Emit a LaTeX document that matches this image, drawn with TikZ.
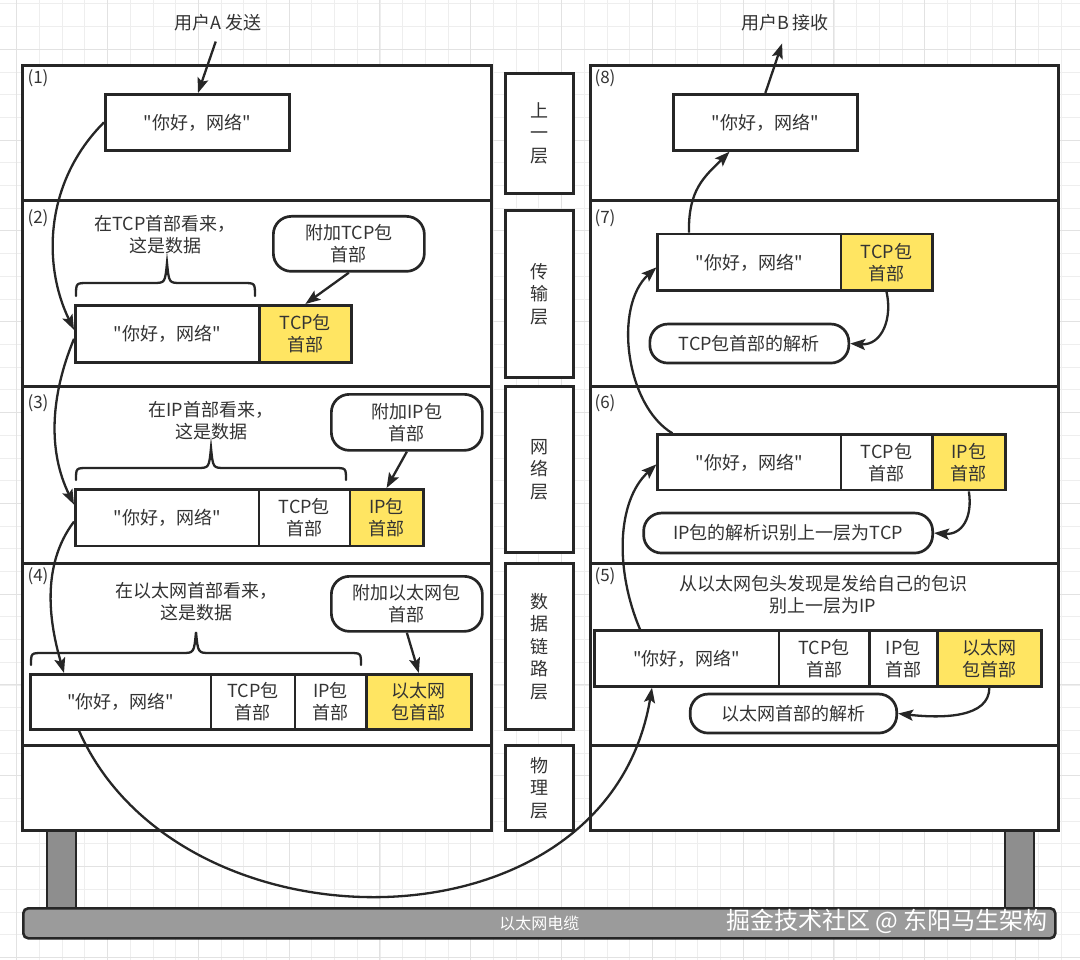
\documentclass[tikz,border=0pt]{standalone}
\usepackage{fontspec}
\setmainfont{Noto Sans CJK SC}[Ligatures=TeXOff]
\usetikzlibrary{arrows.meta,calc}
\definecolor{ink}{HTML}{262626}
\definecolor{txt}{HTML}{333333}
\definecolor{yel}{HTML}{FFE562}
\definecolor{gridminor}{HTML}{EEEEEE}
\definecolor{gridmajor}{HTML}{E2E2E2}
\definecolor{cablegray}{HTML}{9B9B9B}
\definecolor{leggray}{HTML}{8E8E8E}
\begin{document}
\begin{tikzpicture}[x=1pt,y=-1pt,
  every node/.style={text=txt, font=\fontsize{18}{22}\selectfont},
  framebox/.style={draw=ink, line width=2.7pt, fill=white, anchor=north west, inner sep=0pt},
  cellbox/.style={draw=ink, line width=2.7pt, fill=white, anchor=north west, inner sep=0pt, align=center},
  hdrbox/.style={cellbox, fill=yel},
  bubble/.style={draw=ink, line width=2.7pt, fill=white, anchor=north west, inner sep=0pt, rounded corners=18pt, align=center},
  midbox/.style={draw=ink, line width=2.7pt, fill=white, anchor=north west, inner sep=0pt, align=center, font=\fontsize{18}{22.5}\selectfont},
  legbox/.style={draw=ink, line width=2.4pt, fill=leggray, anchor=north west, inner sep=0pt},
  numlabel/.style={font=\fontsize{17}{20}\selectfont, inner sep=0pt},
  arr/.style={draw=ink, line width=2.3pt, -{Stealth[length=15pt,width=11pt,inset=3pt]}},
  bracepath/.style={draw=ink, line width=2.3pt, line cap=round}
]
\useasboundingbox (0,0) rectangle (1080,960);
\fill[white] (0,0) rectangle (1080,960);
% background grid
\foreach \i in {0,...,47} \draw[gridminor, line width=0.8pt] (16.7+22.7*\i,0) -- ++(0,960);
\foreach \j in {0,...,42} \draw[gridminor, line width=0.8pt] (0,3.9+22.7*\j) -- ++(1080,0);
\foreach \i in {0,...,11} \draw[gridmajor, line width=0.9pt] (16.7+90.8*\i,0) -- ++(0,960);
\foreach \j in {0,...,10} \draw[gridmajor, line width=0.9pt] (0,49.3+90.8*\j) -- ++(1080,0);

% legs and cable
\node[legbox, minimum width=29pt, minimum height=80pt] (legL) at (45.5,828) {};
\node[legbox, minimum width=29pt, minimum height=80pt] (legR) at (1004,828) {};
\node[draw=ink, line width=2.6pt, fill=cablegray, anchor=north west, inner sep=0pt, rounded corners=5pt,
      minimum width=1032pt, minimum height=30pt, text=white, font=\fontsize{16}{18}\selectfont] (cable) at (22,907) {以太网电缆};

% left stack
\node[framebox, minimum width=469pt, minimum height=135pt] (L1) at (21,64) {};
\node[framebox, minimum width=469pt, minimum height=186pt] (L2) at (21,199) {};
\node[framebox, minimum width=469pt, minimum height=177pt] (L3) at (21,385) {};
\node[framebox, minimum width=469pt, minimum height=182pt] (L4) at (21,562) {};
\node[framebox, minimum width=469pt, minimum height=85pt] (L5) at (21,744) {};
% right stack
\node[framebox, minimum width=468pt, minimum height=135pt] (R1) at (589,64) {};
\node[framebox, minimum width=468pt, minimum height=186pt] (R2) at (589,199) {};
\node[framebox, minimum width=468pt, minimum height=177pt] (R3) at (589,385) {};
\node[framebox, minimum width=468pt, minimum height=182pt] (R4) at (589,562) {};
\node[framebox, minimum width=468pt, minimum height=85pt] (R5) at (589,744) {};
% middle column
\node[midbox, minimum width=68pt, minimum height=120pt] (M1) at (504,72) {上\\一\\层};
\node[midbox, minimum width=68pt, minimum height=167pt] (M2) at (504,209) {传\\输\\层};
\node[midbox, minimum width=68pt, minimum height=166pt] (M3) at (504,385) {网\\络\\层};
\node[midbox, minimum width=68pt, minimum height=166pt] (M4) at (504,562) {数\\据\\链\\路\\层};
\node[midbox, minimum width=68pt, minimum height=85pt] (M5) at (504,744) {物\\理\\层};

% step labels
\node[numlabel] (n1) at (38,78) {(1)};
\node[numlabel] (n2) at (38,218) {(2)};
\node[numlabel] (n3) at (38,403) {(3)};
\node[numlabel] (n4) at (38,576) {(4)};
\node[numlabel] (n8) at (605,78) {(8)};
\node[numlabel] (n7) at (605,218) {(7)};
\node[numlabel] (n6) at (605,403) {(6)};
\node[numlabel] (n5) at (605,576) {(5)};

% users
\node (ua) at (218,23) {用户A 发送};
\node (ub) at (785,23) {用户B 接收};

% (1)
\node[cellbox, minimum width=184pt, minimum height=56pt] (b1) at (104,93) {"你好，网络"};
% (2)
\node[cellbox, minimum width=184pt, minimum height=57pt] (p2a) at (74,304) {"你好，网络"};
\node[hdrbox, minimum width=92pt, minimum height=57pt] (p2b) at (258,304) {TCP包\\首部};
\node[bubble, minimum width=151pt, minimum height=55pt] (bub2) at (272,215) {附加TCP包\\首部};
\node[align=center] (t2) at (165,235) {在TCP首部看来，\\这是数据};
% (3)
\node[cellbox, minimum width=183.5pt, minimum height=56.5pt] (p3a) at (74,488) {"你好，网络"};
\node[cellbox, minimum width=91pt, minimum height=56.5pt] (p3b) at (257.5,488) {TCP包\\首部};
\node[hdrbox, minimum width=73.5pt, minimum height=56.5pt] (p3c) at (348.5,488) {IP包\\首部};
\node[bubble, minimum width=151pt, minimum height=56pt] (bub3) at (330,393) {附加IP包\\首部};
\node[align=center] (t3) at (211,421) {在IP首部看来，\\这是数据};
% (4)
\node[cellbox, minimum width=180.5pt, minimum height=55pt] (p4a) at (29,673) {"你好，网络"};
\node[cellbox, minimum width=84pt, minimum height=55pt] (p4b) at (209.5,673) {TCP包\\首部};
\node[cellbox, minimum width=71.5pt, minimum height=55pt] (p4c) at (293.5,673) {IP包\\首部};
\node[hdrbox, minimum width=105pt, minimum height=55pt] (p4d) at (365,673) {以太网\\包首部};
\node[bubble, minimum width=151pt, minimum height=55pt] (bub4) at (330,575) {附加以太网包\\首部};
\node[align=center] (t4) at (196,602) {在以太网首部看来，\\这是数据};

% (8)
\node[cellbox, minimum width=184pt, minimum height=56pt] (b8) at (672,93) {"你好，网络"};
% (7)
\node[cellbox, minimum width=183.2pt, minimum height=56.6pt] (p7a) at (656.4,232.7) {"你好，网络"};
\node[hdrbox, minimum width=91.2pt, minimum height=56.6pt] (p7b) at (839.6,232.7) {TCP包\\首部};
\node[bubble, minimum width=199pt, minimum height=39pt] (bub7) at (648.5,322.7) {TCP包首部的解析};
% (6)
\node[cellbox, minimum width=183.2pt, minimum height=55.4pt] (p6a) at (656.4,433.3) {"你好，网络"};
\node[cellbox, minimum width=91.2pt, minimum height=55.4pt] (p6b) at (839.6,433.3) {TCP包\\首部};
\node[hdrbox, minimum width=73.4pt, minimum height=55.4pt] (p6c) at (930.8,433.3) {IP包\\首部};
\node[bubble, minimum width=289pt, minimum height=40pt] (bub6) at (642.3,511.7) {IP包的解析识别上一层为TCP};
% (5)
\node[align=center] (t5) at (823,595) {从以太网包头发现是发给自己的包识\\别上一层为IP};
\node[cellbox, minimum width=184.2pt, minimum height=55.7pt] (p5a) at (593.4,629.3) {"你好，网络"};
\node[cellbox, minimum width=90.2pt, minimum height=55.7pt] (p5b) at (777.6,629.3) {TCP包\\首部};
\node[cellbox, minimum width=68.2pt, minimum height=55.7pt] (p5c) at (867.8,629.3) {IP包\\首部};
\node[hdrbox, minimum width=104pt, minimum height=55.7pt] (p5d) at (936,629.3) {以太网\\包首部};
\node[bubble, minimum width=206.6pt, minimum height=39pt] (bub5) at (688.8,692.7) {以太网首部的解析};

% braces
\draw[bracepath] (76,296) .. controls (76,283) .. (88,283) -- (153,283) .. controls (165,283) .. (167,263)
  .. controls (169,283) .. (181,283) -- (243,283) .. controls (255,283) .. (255,296);
\draw[bracepath] (76,480) .. controls (76,468) .. (88,468) -- (197,468) .. controls (209,468) .. (211,448)
  .. controls (213,468) .. (225,468) -- (334,468) .. controls (346,468) .. (346,480);
\draw[bracepath] (31,665) .. controls (31,653) .. (43,653) -- (182,653) .. controls (194,653) .. (196,632)
  .. controls (198,653) .. (210,653) -- (349,653) .. controls (361,653) .. (361,665);

% straight arrows
\draw[arr, shorten <=7pt] (ua.south) -- ($(b1.north west)+(94,0)$);
\draw[arr, shorten >=9pt] (b8.north) -- (ub.south);
\draw[arr] (bub2.south) -- (p2b.north);
\draw[arr] (bub3.south) -- (p3c.north);
\draw[arr] (bub4.south) -- (p4d.north);

% parse arrows on the right
\draw[arr] (p7b.south) .. controls +(6,26) and +(32,2) .. (bub7.east);
\draw[arr] (p6c.south) .. controls +(4,26) and +(28,2) .. (bub6.east);
\draw[arr] (p5d.south) .. controls +(0,30) and +(45,5) .. (bub5.east);

% sending side flow
\draw[arr] (b1.west) .. controls +(-59,59) and +(-32,-66) .. ($(p2a.west)+(0,-4)$);
\draw[arr] ($(p2a.west)+(0,5)$) .. controls +(-24,58) and +(-26,-53) .. ($(p3a.west)+(0,-13)$);
\draw[arr] ($(p3a.west)+(0,4)$) .. controls +(-34,45) and +(-14,-48) .. ($(p4a.north west)+(35,0)$);
% through the cable
\draw[arr] ($(p4a.south west)+(50,0)$) .. controls +(100,227) and +(-45,270) .. ($(p5a.south west)+(58.6,0)$);
% receiving side flow
\draw[arr] ($(p5a.north west)+(46.6,0)$) .. controls +(-25,-59) and +(-40,37) .. ($(p6a.west)+(0,2)$);
\draw[arr] ($(p6a.north west)+(16,0)$) .. controls +(-47,-28) and +(-43,39) .. ($(p7a.west)+(0,5)$);
\draw[arr] ($(p7a.north west)+(32.6,0)$) .. controls +(-1,-43) and +(-25,25) .. ($(b8.south west)+(57.5,0)$);

% watermark
\node[text=white, font=\fontsize{24}{26}\selectfont] (wm) at (887,921) {掘金技术社区 @ 东阳马生架构};
\end{tikzpicture}
\end{document}
